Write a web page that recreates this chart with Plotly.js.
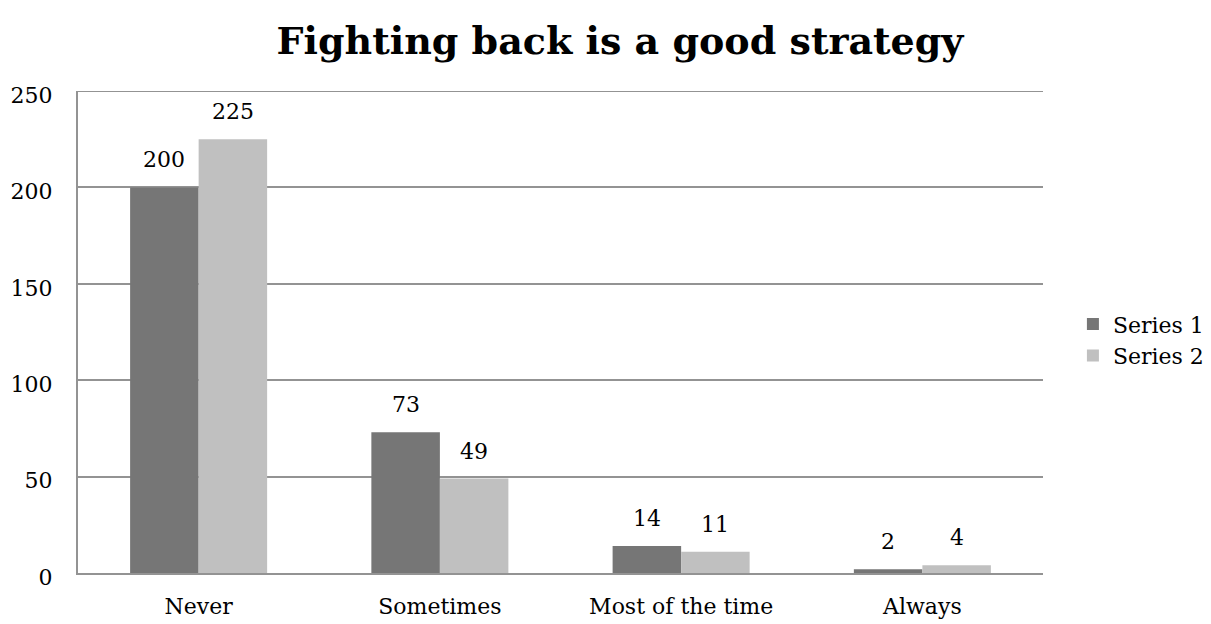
<!DOCTYPE html>
<html>
<head>
<meta charset="utf-8">
<script src="https://cdn.plot.ly/plotly-3.0.1.min.js"></script>
<style>
  html, body { margin: 0; padding: 0; background: #ffffff; }
  #chart { width: 1211px; height: 624px; }
</style>
</head>
<body>
<div id="chart"></div>
<script>
// Survey answers: "Fighting back is a good strategy"
const categories = ["Never", "Sometimes", "Most of the time", "Always"];
const series1 = [200, 73, 14, 2];
const series2 = [225, 49, 11, 4];
const seriesNames = ["Series 1", "Series 2"];
const yTicks = [0, 50, 100, 150, 200, 250];

const FONT = "DejaVu Serif, Liberation Serif, serif";
const colors = ["#767676", "#c0c0c0"];
const GRID = "#939393";

const traces = [series1, series2].map((vals, i) => ({
  type: "bar",
  name: seriesNames[i],
  x: categories,
  y: vals,
  marker: { color: colors[i] },
  hoverinfo: "x+y+name"
}));

// value labels above each bar, offset to the bar's slot within its group
const BARGAP = 0.432;
const plotW = 1211 - 78 - 168;
const slot = plotW / categories.length;
const barW = slot * (1 - BARGAP) / 2;
const annotations = [];
[series1, series2].forEach((vals, i) => {
  vals.forEach((v, j) => {
    annotations.push({
      x: categories[j], y: v, xref: "x", yref: "y",
      text: String(v), showarrow: false,
      xanchor: "center", yanchor: "bottom",
      xshift: (i === 0 ? -1 : 1) * barW / 2,
      yshift: 13,
      font: { family: FONT, size: 22, color: "#000000" }
    });
  });
});

const yMax = yTicks[yTicks.length - 1];

const layout = {
  width: 1211,
  height: 624,
  margin: { l: 78, r: 168, t: 91, b: 51, autoexpand: false },
  paper_bgcolor: "#ffffff",
  plot_bgcolor: "#ffffff",
  font: { family: FONT, size: 22, color: "#000000" },
  title: {
    text: "<b>Fighting back is a good strategy</b>",
    font: { family: FONT, size: 38, color: "#000000" },
    x: 0.512, xref: "container", xanchor: "center",
    y: 0.935, yref: "container", yanchor: "middle"
  },
  barmode: "group",
  bargap: BARGAP,
  bargroupgap: 0,
  xaxis: {
    type: "category",
    showgrid: false,
    showline: true,
    linecolor: GRID,
    linewidth: 2,
    ticks: "",
    ticklabelstandoff: 13,
    tickfont: { family: FONT, size: 22, color: "#000000" },
    zeroline: false
  },
  yaxis: {
    range: [0, yMax],
    tickvals: yTicks,
    ticktext: yTicks.map(String),
    showgrid: true,
    gridcolor: GRID,
    gridwidth: 2,
    showline: true,
    linecolor: GRID,
    linewidth: 2,
    ticks: "",
    ticklabelstandoff: 19,
    ticklabelshift: 4,
    tickfont: { family: FONT, size: 22, color: "#000000" },
    zeroline: false
  },
  // top gridline at the range maximum
  shapes: [{
    type: "line", xref: "paper", yref: "y",
    x0: 0, x1: 1, y0: yMax, y1: yMax,
    line: { color: GRID, width: 2 }
  }],
  showlegend: true,
  legend: {
    x: 1.031, xanchor: "left",
    y: 0.483, yanchor: "middle",
    font: { family: FONT, size: 22, color: "#000000" },
    bgcolor: "rgba(0,0,0,0)",
    itemwidth: 30,
    tracegroupgap: 0
  },
  annotations: annotations
};

Plotly.newPlot("chart", traces, layout, { displayModeBar: false, staticPlot: true });
</script>
</body>
</html>
